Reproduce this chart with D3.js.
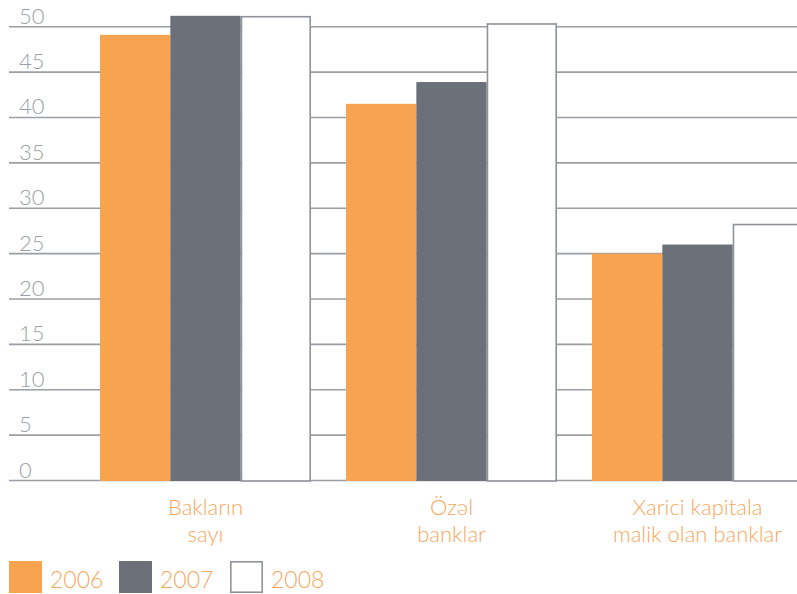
<!DOCTYPE html>
<html>
<head>
<meta charset="utf-8">
<script src="https://cdn.jsdelivr.net/npm/d3@7"></script>
<style>
  html, body { margin: 0; padding: 0; background: #ffffff; }
  svg { display: block; font-family: "Lato", "Open Sans", sans-serif; font-weight: 300; }
</style>
</head>
<body>
<svg id="chart" width="797" height="594"></svg>
<script>
// Bank counts by group and year
const categories = [["Bakların", "sayı"], ["Özəl", "banklar"], ["Xarici kapitala", "malik olan banklar"]];
const years = ["2006", "2007", "2008"];
const values2006 = [49.1, 41.5, 25.0];
const values2007 = [51.2, 43.9, 26.0];
const values2008 = [51.1, 50.3, 28.2];
const yTicks = [0, 5, 10, 15, 20, 25, 30, 35, 40, 45, 50];

const seriesValues = [values2006, values2007, values2008];
const fills = ["#f7a34f", "#6b7079", "#ffffff"];
const strokes = ["none", "none", "#8e939a"];
const gridColor = "#9a9fa5";
const tickColor = "#9ba0a6";
const labelColor = "#f7a860";

const svg = d3.select("#chart");

const y = d3.scaleLinear().domain([0, 50]).range([480.5, 26.7]);
const x0 = d3.scaleBand()
  .domain(categories.map((c, i) => i))
  .range([100, 803])
  .paddingInner(0.1423)
  .paddingOuter(0);
const x1 = d3.scaleBand().domain(years).range([0, x0.bandwidth()]);

// horizontal grid lines
const grid = svg.append("g");
grid.selectAll("line").data(yTicks).join("line")
  .attr("x1", 9).attr("x2", 797)
  .attr("y1", d => y(d)).attr("y2", d => y(d))
  .attr("stroke", gridColor).attr("stroke-width", 1.6);

// tick labels sit just above their grid lines
svg.append("g").selectAll("text").data(yTicks).join("text")
  .attr("x", 19).attr("y", d => y(d) - 3)
  .attr("fill", tickColor)
  .attr("font-size", 22)
  .text(d => d);

// bars
const groups = svg.append("g").selectAll("g").data(categories).join("g")
  .attr("transform", (c, i) => `translate(${x0(i)},0)`);

groups.selectAll("rect")
  .data((c, i) => years.map((yr, s) => ({ yr, s, v: seriesValues[s][i] })))
  .join("rect")
  .attr("x", d => x1(d.yr) + (d.s === 2 ? 0.8 : 0))
  .attr("width", d => x1.bandwidth() - (d.s === 2 ? 1.6 : 0))
  .attr("y", d => y(d.v))
  .attr("height", d => y(0) - y(d.v) + 0.5)
  .attr("fill", d => fills[d.s])
  .attr("stroke", d => strokes[d.s])
  .attr("stroke-width", 1.6);

// category labels
const catLabels = svg.append("g").selectAll("text").data(categories).join("text")
  .attr("text-anchor", "middle")
  .attr("fill", labelColor)
  .attr("font-size", 22);
catLabels.each(function (c, i) {
  const cx = x0(i) + x0.bandwidth() / 2;
  d3.select(this).selectAll("tspan").data(c).join("tspan")
    .attr("x", cx)
    .attr("y", (d, k) => 515 + k * 27)
    .text(d => d);
});

// legend
const legendX = [9, 119, 230];
const legend = svg.append("g").selectAll("g").data(years).join("g")
  .attr("transform", (d, i) => `translate(${legendX[i]},561)`);
legend.append("rect")
  .attr("x", (d, i) => i === 2 ? 0.8 : 0)
  .attr("y", (d, i) => i === 2 ? 0.8 : 0)
  .attr("width", (d, i) => i === 2 ? 31.4 : 33)
  .attr("height", (d, i) => i === 2 ? 30.4 : 32)
  .attr("fill", (d, i) => fills[i])
  .attr("stroke", (d, i) => strokes[i])
  .attr("stroke-width", 1.6);
legend.append("text")
  .attr("x", 41).attr("y", 27)
  .attr("fill", labelColor)
  .attr("font-size", 23)
  .text(d => d);
</script>
</body>
</html>
